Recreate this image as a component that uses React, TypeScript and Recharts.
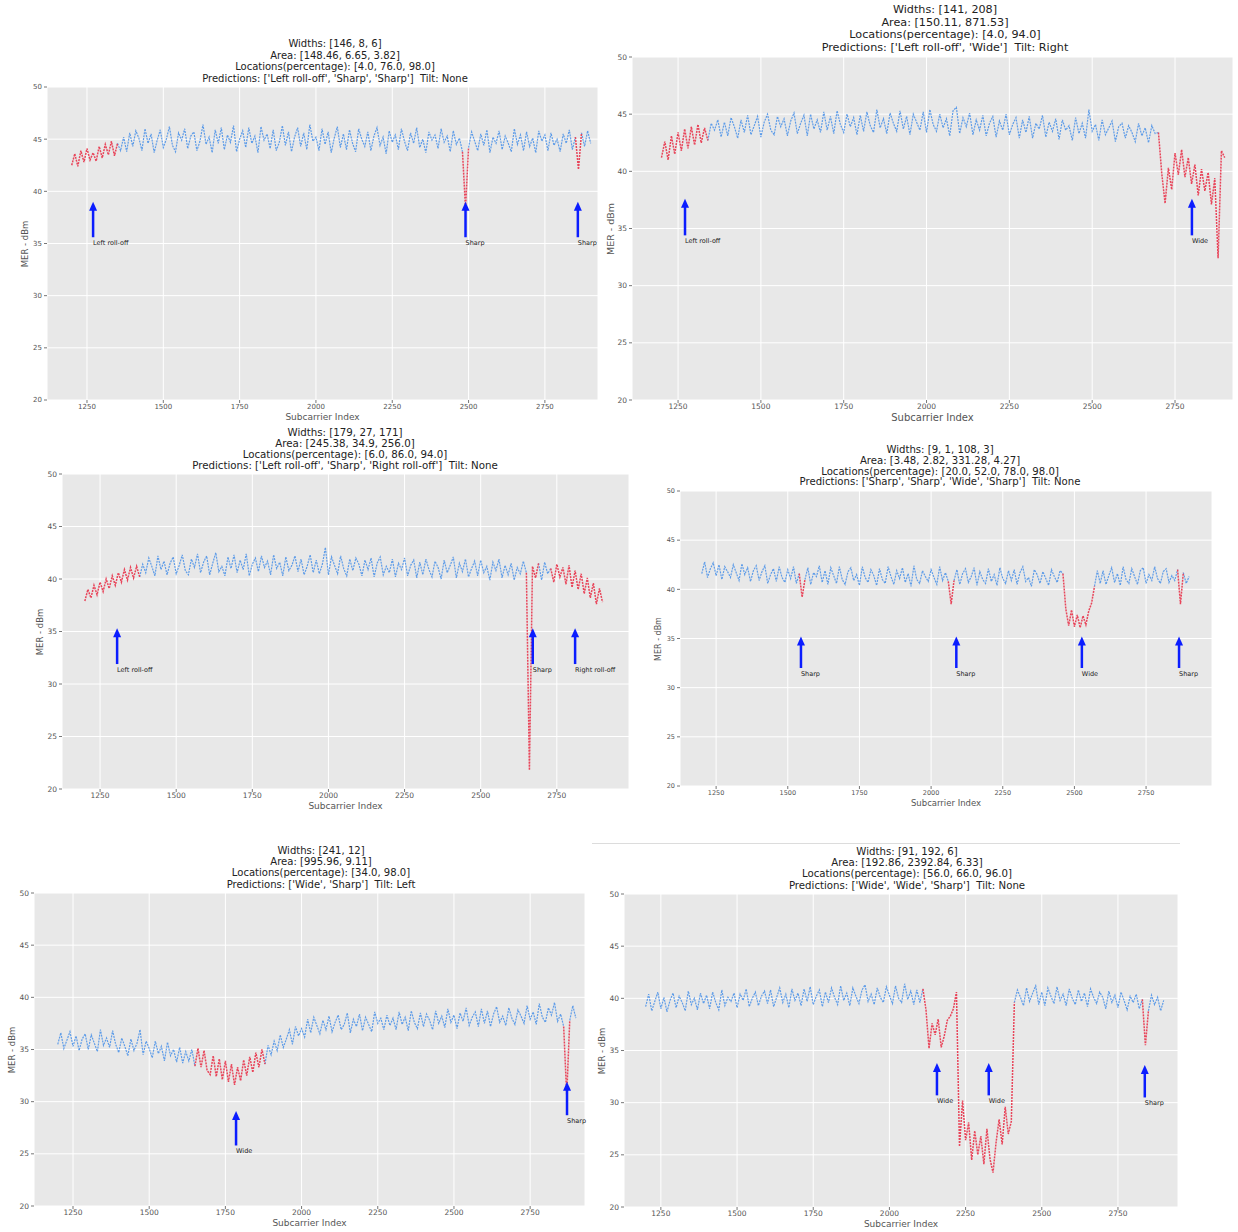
import React from 'react';
import { LineChart, Line, XAxis, YAxis, CartesianGrid, ReferenceLine, ReferenceDot } from 'recharts';

// subcarrier grid shared by every trace (10-subcarrier steps)
const subcarriers = Array.from({ length: 171 }, (_, i) => 1200 + i * 10);
const xTicks = [1250, 1500, 1750, 2000, 2250, 2500, 2750];
const yTicks = [20, 25, 30, 35, 40, 45, 50];

// ---- trace 1 ----
const p1Title = ['Widths: [146, 8, 6]', 'Area: [148.46, 6.65, 3.82]', 'Locations(percentage): [4.0, 76.0, 98.0]', "Predictions: ['Left roll-off', 'Sharp', 'Sharp']  Tilt: None"];
const p1Mer = [
  42.5, 43.6, 42.4, 43.9, 42.8, 44.1, 43.0, 43.7, 42.9, 44.3,
  43.2, 44.5, 43.5, 44.8, 43.4, 44.6, 43.9, 45.2, 43.8, 45.6,
  44.3, 45.8, 45.1, 43.9, 46.0, 44.6, 45.5, 43.7, 44.9, 45.9,
  44.2, 45.0, 46.2, 44.4, 43.8, 45.6, 44.9, 46.0, 44.1, 45.3,
  45.7, 43.9, 44.8, 46.4, 44.5, 45.2, 43.7, 45.9, 44.6, 46.1,
  44.0, 45.4, 44.7, 46.3, 43.8, 45.0, 45.8, 44.2, 46.1, 44.6,
  45.3, 43.7, 46.2, 44.9, 45.5, 44.1, 45.9, 43.9, 44.7, 46.3,
  44.4, 45.7, 43.8, 45.2, 46.1, 44.3, 45.6, 44.0, 46.4, 44.8,
  45.2, 43.9, 46.0, 44.5, 45.7, 43.7, 45.1, 46.2, 44.2, 45.5,
  44.0, 45.9, 44.6, 43.8, 46.0, 45.0, 44.3, 45.7, 43.9, 45.3,
  46.1, 44.4, 45.2, 43.6, 45.8, 44.7, 45.4, 44.0, 46.0, 44.8,
  43.9, 45.6, 44.6, 46.1, 44.2, 45.0, 43.7, 45.7, 44.9, 45.4,
  44.1, 46.0, 44.7, 45.3, 43.8, 45.8, 44.5, 45.1, 43.8, 38.4,
  44.2, 45.7, 44.8, 43.9, 45.5, 44.4, 45.9, 43.7, 45.2, 44.6,
  45.8, 44.0, 45.3, 44.6, 43.8, 46.0, 44.5, 45.4, 43.9, 45.7,
  44.3, 45.1, 43.7, 45.8, 44.8, 45.4, 43.9, 45.6, 44.4, 45.0,
  43.8, 45.5, 44.6, 45.9, 44.0, 45.2, 42.1, 45.6, 44.3, 45.8,
  44.6,
];
const p1Faults = [[1200, 1350], [2480, 2500], [2850, 2870]];
const p1ArrowX = [1270, 2490, 2858];
const p1ArrowTip = [39, 39, 39];
const p1ArrowTail = [35.6, 35.6, 35.6];
const p1ArrowLabels = ['Left roll-off', 'Sharp', 'Sharp'];

// ---- trace 2 ----
const p2Title = ['Widths: [141, 208]', 'Area: [150.11, 871.53]', 'Locations(percentage): [4.0, 94.0]', "Predictions: ['Left roll-off', 'Wide']  Tilt: Right"];
const p2Mer = [
  41.2, 42.6, 41.0, 43.1, 41.5, 43.4, 41.8, 43.7, 42.0, 43.9,
  42.3, 44.1, 42.5, 43.8, 42.7, 44.2, 43.6, 44.5, 43.0, 44.3,
  43.1, 44.7, 43.9, 42.9, 44.5, 43.4, 44.9, 43.2, 44.0, 44.8,
  43.0, 44.3, 45.0, 43.6, 43.2, 44.8, 43.9, 44.6, 43.1, 44.4,
  45.1, 43.3, 44.2, 44.9, 43.1, 45.0, 43.7, 44.5, 43.4, 45.2,
  43.6, 44.8, 43.3, 45.3, 44.1, 43.4, 45.0, 43.9, 44.7, 43.2,
  44.9, 43.5, 45.2, 44.0, 43.4, 45.4, 43.8, 44.6, 43.3, 45.1,
  44.2, 43.5, 45.3, 43.7, 44.8, 43.2, 45.0, 44.3, 43.6, 45.2,
  43.4, 45.4, 44.1, 43.5, 45.0, 43.8, 44.6, 43.1, 45.3, 45.6,
  43.3, 44.7, 43.9, 45.1, 43.2, 44.5, 43.6, 44.9, 43.1, 44.2,
  44.8, 43.0, 44.4, 43.6, 45.0, 43.2, 44.1, 44.7, 42.9, 44.5,
  43.4, 44.8, 42.9, 44.2, 43.7, 44.9, 43.0, 44.3, 43.5, 44.6,
  42.8, 44.5, 43.6, 44.0, 42.7, 44.7, 43.3, 44.2, 42.9, 45.4,
  43.5, 44.1, 42.7, 44.5, 43.2, 43.8, 44.4, 42.6, 43.9, 44.2,
  42.9, 44.0, 43.4, 42.6, 44.2, 43.1, 43.8, 42.5, 44.0, 43.3,
  43.4, 39.8, 37.2, 40.3, 38.4, 41.6, 39.7, 41.9, 39.5, 41.2,
  38.9, 40.6, 37.9, 40.2, 38.3, 39.9, 37.1, 39.4, 32.4, 41.8,
  41.2,
];
const p2Faults = [[1200, 1340], [2700, 2900]];
const p2ArrowX = [1271, 2801];
const p2ArrowTip = [37.6, 37.6];
const p2ArrowTail = [34.4, 34.4];
const p2ArrowLabels = ['Left roll-off', 'Wide'];

// ---- trace 3 ----
const p3Title = ['Widths: [179, 27, 171]', 'Area: [245.38, 34.9, 256.0]', 'Locations(percentage): [6.0, 86.0, 94.0]', "Predictions: ['Left roll-off', 'Sharp', 'Right roll-off']  Tilt: None"];
const p3Mer = [
  37.9, 39.0, 38.2, 39.4, 38.5, 39.7, 38.8, 40.0, 39.1, 40.3,
  39.4, 40.6, 39.7, 40.9, 39.9, 41.1, 40.1, 41.2, 40.2, 41.4,
  40.6, 42.0, 41.2, 40.3, 42.2, 40.9, 41.7, 40.4, 41.5, 42.1,
  40.5, 41.3, 42.3, 40.8, 40.4, 41.9, 41.1, 42.4, 40.6, 41.6,
  42.2, 40.4, 41.5, 42.5, 40.7, 41.2, 40.3, 42.1, 41.0, 42.3,
  40.6, 41.8, 40.9, 42.4, 40.3, 41.4, 42.0, 40.7, 42.2, 41.1,
  41.7, 40.4, 42.3, 41.0, 41.6, 40.3, 42.1, 40.8, 41.3, 42.2,
  40.7, 41.9, 40.4, 41.2, 42.3, 40.6, 41.8, 40.5, 41.4, 43.0,
  40.4, 42.1, 41.3, 40.5, 42.2, 41.0, 40.3, 41.9, 40.8, 42.0,
  41.4, 40.3, 41.8, 40.9, 42.0, 40.2, 41.5, 42.1, 40.4, 41.2,
  40.6, 41.9, 40.2, 41.5, 40.9, 42.0, 40.3, 41.3, 41.8, 40.1,
  41.6, 40.4, 41.9, 40.9, 40.2, 41.7, 41.1, 40.0, 41.8, 40.6,
  41.3, 42.1, 40.1, 41.5, 40.7, 41.9, 40.2, 41.0, 41.7, 40.3,
  41.8, 40.6, 41.2, 39.9, 41.6, 40.8, 41.9, 40.1, 41.3, 40.4,
  41.5, 39.9, 41.1, 40.5, 41.7, 40.6, 21.8, 41.2, 40.1, 41.5,
  39.9, 41.6, 40.5, 41.0, 39.7, 41.4, 40.2, 41.1, 39.5, 41.3,
  39.2, 40.8, 39.0, 40.5, 38.6, 40.1, 38.2, 39.6, 37.6, 39.1,
  37.8,
];
const p3Faults = [[1200, 1380], [2650, 2690], [2730, 2900]];
const p3ArrowX = [1306, 2671, 2810];
const p3ArrowTip = [35.3, 35.3, 35.3];
const p3ArrowTail = [31.9, 31.9, 31.9];
const p3ArrowLabels = ['Left roll-off', 'Sharp', 'Right roll-off'];

// ---- trace 4 ----
const p4Title = ['Widths: [9, 1, 108, 3]', 'Area: [3.48, 2.82, 331.28, 4.27]', 'Locations(percentage): [20.0, 52.0, 78.0, 98.0]', "Predictions: ['Sharp', 'Sharp', 'Wide', 'Sharp']  Tilt: None"];
const p4Mer = [
  41.6, 42.8, 41.2, 42.1, 42.7, 41.4, 42.5, 41.0, 42.3, 41.8,
  41.2, 42.5, 41.7, 40.9, 42.6, 41.5, 42.2, 40.8, 41.9, 42.4,
  40.9, 41.8, 42.4, 40.6, 41.5, 42.1, 40.8, 42.3, 41.2, 40.7,
  42.0, 41.1, 42.3, 40.6, 41.6, 39.2, 41.0, 42.2, 40.5, 41.7,
  41.3, 42.4, 40.7, 41.9, 40.5, 42.2, 41.4, 40.6, 42.3, 41.0,
  40.5, 41.8, 42.2, 40.9, 41.5, 40.4, 42.3, 41.2, 40.7, 42.0,
  41.4, 40.4, 42.1, 41.0, 40.6, 42.3, 41.3, 40.5, 41.9, 41.1,
  42.2, 40.7, 41.6, 40.3, 42.4, 41.0, 40.6, 41.9, 41.3, 40.8,
  42.0, 41.2, 40.5, 42.3, 40.9, 41.7, 40.8, 38.5, 40.9, 42.0,
  40.5, 41.6, 42.1, 40.7, 41.3, 42.2, 40.4, 41.8, 41.0, 40.6,
  42.1, 40.8, 41.5, 40.4, 42.2, 41.1, 40.6, 41.9, 40.9, 42.0,
  40.5, 41.7, 42.3, 40.8, 41.2, 40.3, 42.0, 41.5, 40.6, 41.8,
  41.1, 40.4, 42.0, 41.3, 40.7, 41.9, 41.6, 38.0, 36.3, 37.9,
  36.2, 37.4, 36.1, 37.3, 36.4, 37.8, 38.6, 40.3, 41.9, 40.6,
  41.9, 40.5, 41.4, 42.2, 40.7, 41.6, 40.4, 42.3, 41.0, 40.6,
  42.1, 41.3, 40.5, 41.9, 42.2, 40.6, 41.5, 40.9, 42.3, 41.1,
  40.6, 41.8, 42.1, 40.7, 41.4, 40.9, 42.0, 38.5, 41.7, 40.6,
  41.3,
];
const p4Faults = [[1540, 1560], [2060, 2080], [2460, 2570], [2860, 2880]];
const p4ArrowX = [1546, 2088, 2526, 2865];
const p4ArrowTip = [35.2, 35.2, 35.2, 35.2];
const p4ArrowTail = [32.0, 32.0, 32.0, 32.0];
const p4ArrowLabels = ['Sharp', 'Sharp', 'Wide', 'Sharp'];

// ---- trace 5 ----
const p5Title = ['Widths: [241, 12]', 'Area: [995.96, 9.11]', 'Locations(percentage): [34.0, 98.0]', "Predictions: ['Wide', 'Sharp']  Tilt: Left"];
const p5Mer = [
  35.5, 36.6, 35.1, 35.9, 36.7, 35.3, 36.3, 34.9, 36.0, 36.5,
  35.0, 36.4, 35.6, 34.8, 36.9, 35.4, 36.1, 35.2, 36.8, 35.5,
  34.7, 36.1, 35.3, 34.4, 36.0, 34.9, 35.6, 36.9, 34.5, 35.8,
  35.1, 34.2, 35.8, 34.6, 35.3, 33.9, 35.7, 34.4, 35.0, 33.8,
  35.2, 33.7, 34.8, 33.9, 35.0, 33.4, 35.1, 33.3, 34.9, 33.0,
  32.6, 34.4, 32.4, 34.1, 32.1, 33.9, 31.9, 33.6, 31.6, 33.3,
  32.0, 34.0, 32.5, 34.3, 32.8, 34.7, 33.3, 35.0, 33.6, 35.4,
  34.5, 35.8, 34.9, 36.4, 35.2, 36.0, 36.9, 35.5, 37.2, 36.3,
  37.0, 36.2, 37.9, 36.6, 38.1, 37.3, 36.5, 37.8, 36.9, 38.2,
  36.7, 37.6, 38.3, 36.9, 37.4, 38.5, 36.6, 37.9, 37.2, 38.4,
  36.8, 38.1, 37.4, 36.7, 38.6, 37.5, 38.0, 36.9, 38.3, 37.3,
  38.0, 36.9, 38.6, 37.4, 38.1, 36.8, 38.7, 37.6, 37.0, 38.5,
  37.2, 38.4, 37.8, 36.9, 38.7, 37.5, 38.2, 37.1, 38.9, 37.6,
  38.3, 37.0, 38.5, 37.7, 39.0, 37.3, 38.1, 38.6, 37.2, 38.9,
  37.5, 38.7, 37.2, 38.4, 39.1, 37.6, 38.2, 37.3, 39.0, 38.0,
  37.4, 38.8, 38.2, 37.5, 39.2, 37.9, 38.6, 37.4, 39.4, 38.1,
  37.6, 39.0, 38.3, 39.5, 37.7, 38.4, 37.2, 30.6, 37.8, 39.2,
  38.0,
];
const p5Faults = [[1650, 1880], [2860, 2880]];
const p5ArrowX = [1785, 2871];
const p5ArrowTip = [29.1, 31.9];
const p5ArrowTail = [25.8, 28.7];
const p5ArrowLabels = ['Wide', 'Sharp'];

// ---- trace 6 ----
const p6Title = ['Widths: [91, 192, 6]', 'Area: [192.86, 2392.84, 6.33]', 'Locations(percentage): [56.0, 66.0, 96.0]', "Predictions: ['Wide', 'Wide', 'Sharp']  Tilt: None"];
const p6Mer = [
  39.2, 40.4, 38.8, 39.7, 40.6, 39.0, 40.1, 38.7, 39.8, 40.5,
  39.1, 40.2, 39.6, 38.8, 40.7, 39.4, 40.0, 38.9, 40.5, 39.5,
  40.3, 39.0, 40.6, 39.6, 38.9, 40.8, 39.3, 40.1, 39.7, 40.5,
  39.1, 40.4, 39.8, 40.9, 39.2, 40.0, 40.6, 39.3, 40.2, 40.7,
  39.5, 40.8, 39.2, 40.1, 41.0, 39.6, 40.4, 39.1, 40.9, 39.8,
  40.5, 39.3, 40.9, 39.7, 41.1, 39.4, 40.2, 40.8, 39.2, 40.6,
  39.6, 41.0, 40.1, 39.4, 41.2, 39.8, 40.5, 39.3, 41.0, 40.2,
  39.5, 40.8, 41.3, 39.7, 40.4, 39.4, 41.0, 40.1, 39.6, 41.1,
  40.3, 39.5, 41.2, 40.0, 39.6, 41.4, 39.9, 40.7, 39.4, 40.8,
  39.6, 40.9, 38.9, 35.2, 37.6, 36.5, 38.0, 35.3, 36.4, 37.9,
  38.3, 39.0, 40.6, 25.8, 30.2, 26.4, 28.1, 24.5, 27.3, 25.0,
  26.8, 24.1, 27.5, 24.6, 23.3, 26.2, 28.4, 26.0, 29.6, 27.0,
  28.2, 39.6, 40.8, 40.1, 39.3, 41.0, 39.7, 40.5, 41.2, 39.4,
  40.6, 39.3, 41.0, 40.2, 39.5, 41.1, 39.8, 40.4, 39.3, 40.9,
  40.0, 39.4, 40.8, 39.7, 40.5, 39.2, 40.9, 40.1, 39.5, 40.6,
  40.1, 39.0, 40.7, 39.6, 40.3, 39.1, 40.6, 39.8, 38.9, 40.2,
  39.6, 40.4, 39.0, 39.9, 35.5, 38.8, 40.3, 39.4, 40.1, 38.8,
  39.8,
];
const p6Faults = [[2110, 2410], [2830, 2850]];
const p6ArrowX = [2156, 2326, 2838];
const p6ArrowTip = [33.8, 33.8, 33.6];
const p6ArrowTail = [30.7, 30.7, 30.5];
const p6ArrowLabels = ['Wide', 'Wide', 'Sharp'];

const BLUE = '#5e9ce8';
const RED = '#e8455a';
const ARROW = '#0b1dff';
const FONT = '"DejaVu Sans", sans-serif';

// split one trace into the normal part and the flagged fault segments
function buildRows(mer: number[], faults: number[][]) {
  return subcarriers.map((x, i) => {
    const v = mer[i];
    const inside = faults.some(([a, b]) => x > a && x < b);
    const onFault = faults.some(([a, b]) => x >= a && x <= b);
    return { x, normal: inside ? null : v, fault: onFault ? v : null };
  });
}

const panels = [
  { title: p1Title, mer: p1Mer, faults: p1Faults, ax: p1ArrowX, tip: p1ArrowTip, tail: p1ArrowTail, labels: p1ArrowLabels,
    box: { left: 47, right: 598, top: 87, bottom: 400 }, domain: [1119, 2924], titleCx: 335, titleFs: 10, titleLh: 11.4, tickFs: 7, labelFs: 8.5 },
  { title: p2Title, mer: p2Mer, faults: p2Faults, ax: p2ArrowX, tip: p2ArrowTip, tail: p2ArrowTail, labels: p2ArrowLabels,
    box: { left: 632, right: 1233, top: 57, bottom: 400 }, domain: [1111, 2925], titleCx: 945, titleFs: 11.2, titleLh: 12.4, tickFs: 7.5, labelFs: 9.5 },
  { title: p3Title, mer: p3Mer, faults: p3Faults, ax: p3ArrowX, tip: p3ArrowTip, tail: p3ArrowTail, labels: p3ArrowLabels,
    box: { left: 62, right: 629, top: 474, bottom: 789 }, domain: [1125, 2987], titleCx: 345, titleFs: 10.25, titleLh: 11, tickFs: 7.5, labelFs: 8.5 },
  { title: p4Title, mer: p4Mer, faults: p4Faults, ax: p4ArrowX, tip: p4ArrowTip, tail: p4ArrowTail, labels: p4ArrowLabels,
    box: { left: 680, right: 1212, top: 491, bottom: 786 }, domain: [1124, 2980], titleCx: 940, titleFs: 10.15, titleLh: 10.7, tickFs: 6.5, labelFs: 8 },
  { title: p5Title, mer: p5Mer, faults: p5Faults, ax: p5ArrowX, tip: p5ArrowTip, tail: p5ArrowTail, labels: p5ArrowLabels,
    box: { left: 34, right: 585, top: 893, bottom: 1206 }, domain: [1122, 2930], titleCx: 321, titleFs: 10.05, titleLh: 11.3, tickFs: 7.5, labelFs: 8.5 },
  { title: p6Title, mer: p6Mer, faults: p6Faults, ax: p6ArrowX, tip: p6ArrowTip, tail: p6ArrowTail, labels: p6ArrowLabels,
    box: { left: 624, right: 1178, top: 894, bottom: 1207 }, domain: [1129, 2947], titleCx: 907, titleFs: 10.2, titleLh: 11.3, tickFs: 7.5, labelFs: 8.5 },
];

const Y_AXIS_W = 36;
const X_AXIS_H = 16;
const MT = 6;
const MR = 2;

function Panel({ cfg }: { cfg: any }) {
  const { box } = cfg;
  const plotW = box.right - box.left;
  const plotH = box.bottom - box.top;
  const rows = buildRows(cfg.mer, cfg.faults);
  const cx = (box.left + box.right) / 2;
  const tick = { fontSize: cfg.tickFs, fill: '#555', fontFamily: FONT };

  return (
    <>
      <div style={{ position: 'absolute', left: cfg.titleCx, top: box.top - 3 - 4 * cfg.titleLh, transform: 'translateX(-50%)',
        textAlign: 'center', whiteSpace: 'pre', fontSize: cfg.titleFs, lineHeight: cfg.titleLh + 'px', color: '#222' }}>
        {cfg.title.map((t: string, i: number) => <div key={i}>{t}</div>)}
      </div>
      <div style={{ position: 'absolute', left: box.left - Y_AXIS_W, top: box.top - MT }}>
        <LineChart width={Y_AXIS_W + plotW + MR} height={MT + plotH + X_AXIS_H} data={rows}
          margin={{ top: MT, right: MR, bottom: 0, left: 0 }}>
          <CartesianGrid fill="#e8e8e8" stroke="#ffffff" strokeWidth={1} />
          <XAxis dataKey="x" type="number" domain={cfg.domain} ticks={xTicks} allowDataOverflow
            tick={tick} tickSize={3} tickLine={{ stroke: '#777' }} axisLine={false} height={X_AXIS_H} tickMargin={1} />
          <YAxis type="number" domain={[20, 50]} ticks={yTicks} allowDataOverflow
            tick={tick} tickSize={3} tickLine={{ stroke: '#777' }} axisLine={false} width={Y_AXIS_W} tickMargin={2} />
          <Line dataKey="normal" stroke={BLUE} strokeWidth={1.2} strokeDasharray="2 1" dot={false}
            isAnimationActive={false} connectNulls={false} />
          <Line dataKey="fault" stroke={RED} strokeWidth={1.5} strokeDasharray="2 1" dot={false}
            isAnimationActive={false} connectNulls={false} />
          {cfg.ax.map((x: number, i: number) => (
            <ReferenceLine key={'s' + i} segment={[{ x, y: cfg.tail[i] }, { x, y: cfg.tip[i] - 0.5 }]}
              stroke={ARROW} strokeWidth={2.5} />
          ))}
          {cfg.ax.map((x: number, i: number) => (
            <ReferenceDot key={'h' + i} x={x} y={cfg.tip[i]} r={4}
              shape={(p: any) => (
                <polygon points={`${p.cx},${p.cy} ${p.cx - 4},${p.cy + 9} ${p.cx + 4},${p.cy + 9}`} fill={ARROW} />
              )} />
          ))}
          {cfg.ax.map((x: number, i: number) => (
            <ReferenceDot key={'t' + i} x={x} y={cfg.tail[i]} r={2}
              shape={(p: any) => (
                <text x={p.cx} y={p.cy + 8} fontSize={6.5} fill="#222" fontFamily={FONT}>{cfg.labels[i]}</text>
              )} />
          ))}
        </LineChart>
      </div>
      <div style={{ position: 'absolute', left: box.left - 22, top: (box.top + box.bottom) / 2,
        transform: 'translate(-50%, -50%) rotate(-90deg)', whiteSpace: 'nowrap', fontSize: cfg.labelFs, color: '#555' }}>
        MER - dBm
      </div>
      <div style={{ position: 'absolute', left: cx, top: box.bottom + 12, transform: 'translateX(-50%)',
        whiteSpace: 'nowrap', fontSize: cfg.labelFs + 0.5, color: '#555' }}>
        Subcarrier Index
      </div>
    </>
  );
}

export default function App() {
  return (
    <div style={{ position: 'absolute', left: 0, top: 0, width: 1238, height: 1232, background: '#fff', fontFamily: FONT, overflow: 'hidden' }}>
      <div style={{ position: 'absolute', left: 592, top: 843, width: 588, height: 1, background: '#dcdcdc' }} />
      {panels.map((cfg, i) => <Panel key={i} cfg={cfg} />)}
    </div>
  );
}
